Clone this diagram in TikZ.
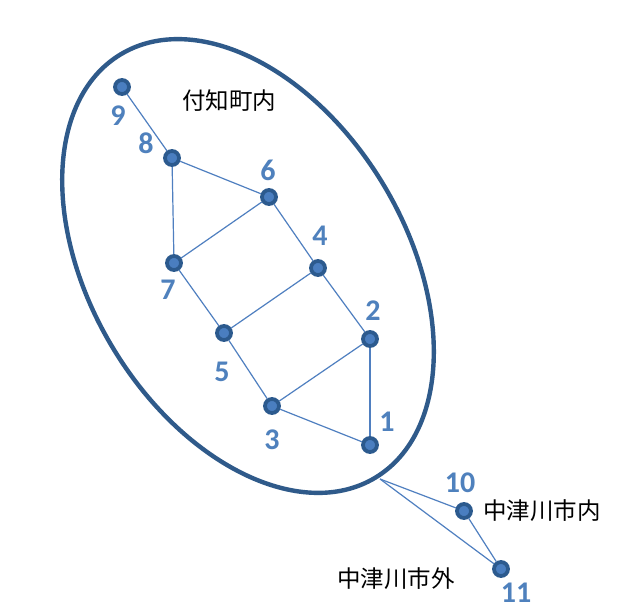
\documentclass[tikz,border=0pt]{standalone}
\usepackage{fontspec}
\newfontfamily\cjkfont{Noto Sans CJK JP}
\newfontfamily\numfont{Carlito}
\definecolor{edgeblue}{HTML}{4F7FC0}
\definecolor{ringblue}{HTML}{2F5A8A}
\definecolor{dotring}{HTML}{2C5A8E}
\definecolor{dotfill}{HTML}{4A7EC0}
\definecolor{numblue}{HTML}{4F81BD}
\tikzset{
  vert/.style={circle,draw=dotring,fill=dotfill,line width=3.8pt,minimum size=14pt,inner sep=0pt},
  num/.style={text=numblue,font=\numfont\bfseries\fontsize{30}{30}\selectfont,inner sep=0pt},
  place/.style={text=black,font=\cjkfont\fontsize{23.5}{24}\selectfont,inner sep=0pt},
  link/.style={draw=edgeblue,line width=1.2pt},
}
\begin{document}
\begin{tikzpicture}[x=1pt,y=-1pt]
\useasboundingbox (0,0) rectangle (628,615);
\fill[white] (0,0) rectangle (628,615);
% region ellipse
\draw[ringblue,line width=4.4pt,rotate around={-59:(248,266)}] (248,266) ellipse (247 and 158);
\coordinate (tip) at (380,479);
% vertices
\node[vert] (v9) at (122,87) {};
\node[vert] (v8) at (172,158) {};
\node[vert] (v6) at (269,197) {};
\node[vert] (v7) at (174,263) {};
\node[vert] (v4) at (318,268) {};
\node[vert] (v5) at (224,333) {};
\node[vert] (v2) at (370,339) {};
\node[vert] (v3) at (272,406) {};
\node[vert] (v1) at (370,445) {};
\node[vert] (v10) at (464,511) {};
\node[vert] (v11) at (501,569) {};
% edges
\path[link] (v9) -- (v8);
\path[link] (v8) -- (v6);
\path[link] (v8) -- (v7);
\path[link] (v6) -- (v7);
\path[link] (v6) -- (v4);
\path[link] (v7) -- (v5);
\path[link] (v4) -- (v5);
\path[link] (v4) -- (v2);
\path[link] (v5) -- (v3);
\path[link] (v3) -- (v2);
\path[link] (v2) -- (v1);
\path[link] (v3) -- (v1);
\path[link] (v10) -- (v11);
\path[link] (tip) -- (v10);
\path[link] (tip) -- (v11);
% labels
\node[num] (n9) at (118,116) {9};
\node[num] (n8) at (146,143) {8};
\node[num] (n6) at (268,170) {6};
\node[num] (n7) at (168,290) {7};
\node[num] (n4) at (320,236) {4};
\node[num] (n5) at (222,372) {5};
\node[num] (n2) at (373,311) {2};
\node[num] (n3) at (272,440) {3};
\node[num] (n1) at (387,422) {1};
\node[num] (n10) at (460,483) {10};
\node[num] (n11) at (516,593) {11};
\node[place] (t1) at (229,101) {付知町内};
\node[place] (t2) at (542,511) {中津川市内};
\node[place] (t3) at (396,579) {中津川市外};
\end{tikzpicture}
\end{document}
